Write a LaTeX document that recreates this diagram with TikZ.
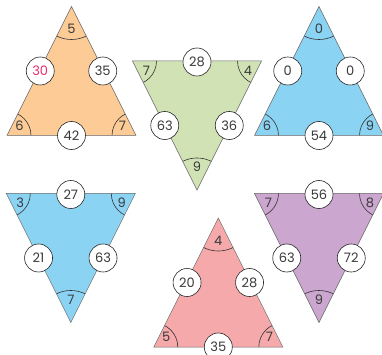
\documentclass[tikz,border=0pt]{standalone}
\usepackage{fontspec}
\setmainfont{Poppins}
\usetikzlibrary{calc}
\definecolor{t1col}{HTML}{FDCB96}
\definecolor{t2col}{HTML}{D1E3B5}
\definecolor{t3col}{HTML}{8BD3F3}
\definecolor{t4col}{HTML}{8BD3F3}
\definecolor{t5col}{HTML}{F5A9AB}
\definecolor{t6col}{HTML}{CBA6CF}
\definecolor{numpink}{HTML}{E6306E}
\definecolor{txt}{HTML}{3A3A3A}
\tikzset{
  edge/.style={draw=black!60, line width=0.5pt, line join=miter},
  arcline/.style={draw=black!80, line width=0.6pt},
  lab/.style={text=txt, font=\fontsize{13}{13}\selectfont, inner sep=0pt},
  numcirc/.style={circle, draw=black!85, line width=0.6pt, fill=white, minimum size=28pt, inner sep=0pt, text=txt, font=\fontsize{13}{13}\selectfont}
}
% #1 name, #2 cx, #3 apex y, #4 apex label, #5 left label, #6 right label, #7 left edge, #8 right edge, #9 base edge
\newcommand{\triUp}[9]{%
  \coordinate (#1-a) at (#2,#3);
  \coordinate (#1-l) at ($(#1-a)+(-64.5,129)$);
  \coordinate (#1-r) at ($(#1-a)+(64.5,129)$);
  \begin{scope}
    \clip (#1-a)--(#1-l)--(#1-r)--cycle;
    \fill[#1col] (#1-a)--(#1-l)--(#1-r)--cycle;
    \draw[arcline] (#1-a) circle[radius=33pt] (#1-l) circle[radius=24pt] (#1-r) circle[radius=24pt];
  \end{scope}
  \draw[edge] (#1-a)--(#1-l)--(#1-r)--cycle;
  \node[lab] (#1-la) at ($(#1-a)+(0,22.5)$) {#4};
  \node[lab] (#1-ll) at ($(#1-l)+(12.5,-10)$) {#5};
  \node[lab] (#1-lr) at ($(#1-r)+(-13.5,-10)$) {#6};
  \node[numcirc] (#1-el) at ($(#1-a)!0.5!(#1-l)+(1,0)$) {#7};
  \node[numcirc] (#1-er) at ($(#1-a)!0.5!(#1-r)+(-1,0)$) {#8};
  \node[numcirc] (#1-eb) at ($(#1-l)!0.5!(#1-r)$) {#9};
}
% #1 name, #2 cx, #3 top y, #4 apex label, #5 left label, #6 right label, #7 top edge, #8 left edge, #9 right edge
\newcommand{\triDown}[9]{%
  \coordinate (#1-a) at ($(#2,#3)+(0,129)$);
  \coordinate (#1-l) at ($(#2,#3)+(-64.5,0)$);
  \coordinate (#1-r) at ($(#2,#3)+(64.5,0)$);
  \begin{scope}
    \clip (#1-a)--(#1-l)--(#1-r)--cycle;
    \fill[#1col] (#1-a)--(#1-l)--(#1-r)--cycle;
    \draw[arcline] (#1-a) circle[radius=32pt] (#1-l) circle[radius=24pt] (#1-r) circle[radius=24pt];
  \end{scope}
  \draw[edge] (#1-a)--(#1-l)--(#1-r)--cycle;
  \node[lab] (#1-la) at ($(#1-a)+(0,-23)$) {#4};
  \node[lab] (#1-ll) at ($(#1-l)+(14,9.5)$) {#5};
  \node[lab] (#1-lr) at ($(#1-r)+(-13.5,9.5)$) {#6};
  \node[numcirc] (#1-et) at ($(#1-l)!0.5!(#1-r)+(0,1)$) {#7};
  \node[numcirc] (#1-el) at ($(#1-a)!0.5!(#1-l)$) {#8};
  \node[numcirc] (#1-er) at ($(#1-a)!0.5!(#1-r)$) {#9};
}
\begin{document}
\begin{tikzpicture}[x=1pt,y=-1pt]
\useasboundingbox[fill=white] (0,0) rectangle (382,355);
\triUp{t1}{71.5}{6.5}{5}{6}{7}{\textcolor{numpink}{30}}{35}{42}
\triDown{t2}{197}{61}{9}{7}{4}{28}{63}{36}
\triUp{t3}{319}{6.5}{0}{6}{9}{0}{0}{54}
\triDown{t4}{70.8}{193.5}{7}{3}{9}{27}{21}{63}
\triUp{t5}{218.3}{218}{4}{5}{7}{20}{28}{35}
\triDown{t6}{319}{193.5}{9}{7}{8}{56}{63}{72}
\end{tikzpicture}
\end{document}
